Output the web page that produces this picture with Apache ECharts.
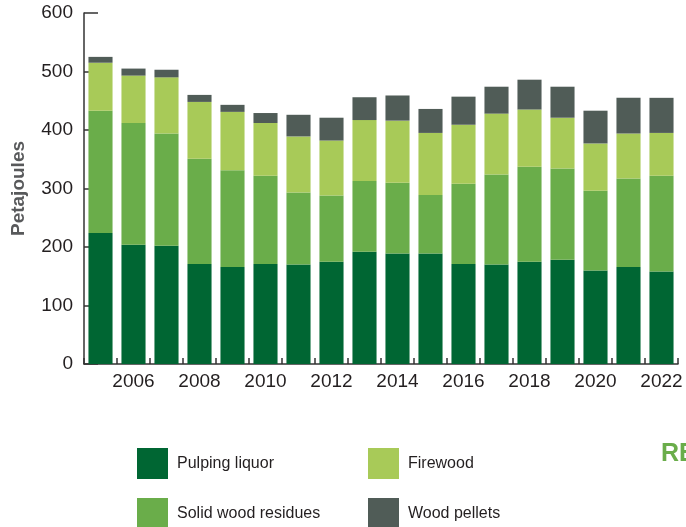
<!DOCTYPE html>
<html><head><meta charset="utf-8">
<script src="https://cdn.jsdelivr.net/npm/echarts@6/dist/echarts.min.js"></script>
<style>html,body{margin:0;padding:0;background:#fff}#c{width:686px;height:527px}</style>
</head><body><div id="c"></div>
<script>
const years = ['2005','2006','2007','2008','2009','2010','2011','2012','2013','2014','2015','2016','2017','2018','2019','2020','2021','2022'];
const pulpingLiquor = [224, 204, 202, 171, 166, 171, 170, 175, 192, 189, 189, 171, 170, 175, 178, 160, 166, 158];
const solidWoodResidues = [209, 208, 192, 180, 165, 151, 123, 113, 121, 121, 100, 137, 154, 162, 156, 136, 151, 164];
const firewood = [82, 81, 96, 97, 100, 90, 96, 94, 104, 106, 106, 101, 104, 98, 87, 81, 77, 73];
const woodPellets = [10, 12, 13, 12, 12, 17, 37, 39, 39, 43, 41, 48, 46, 51, 53, 56, 61, 60];
const yTicks = [0, 100, 200, 300, 400, 500, 600];

const FONT = '"Liberation Sans", Arial, sans-serif';
const colors = {
  'Pulping liquor': '#006633',
  'Solid wood residues': '#6aad4a',
  'Firewood': '#a8ca58',
  'Wood pellets': '#505c57'
};
function s(name, data) {
  return { name, type: 'bar', stack: 't', data, barCategoryGap: '27%', z: 5,
    itemStyle: { color: colors[name] } };
}
const legendBase = { top: 448, orient: 'vertical', itemWidth: 31, itemHeight: 31, itemGap: 19,
  padding: 0, height: 120, icon: 'rect', selectedMode: false,
  textStyle: { color: '#231f20', fontFamily: FONT, fontSize: 16, padding: [0, 0, 0, 4] } };
const chart = echarts.init(document.getElementById('c'), null, { renderer: 'canvas' });
chart.setOption({
  animation: false,
  grid: { left: 84, right: 8, top: 13, bottom: 163, containLabel: false, outerBoundsMode: 'none' },
  xAxis: {
    type: 'category', data: years, boundaryGap: true, z: 0,
    axisLine: { lineStyle: { color: '#333', width: 1.5 } },
    axisTick: { show: true, inside: true, length: 6, interval: 0, alignWithLabel: false, lineStyle: { color: '#333', width: 1.5 } },
    axisLabel: { interval: (i) => i % 2 === 1, color: '#231f20', fontFamily: FONT, fontSize: 19, margin: 8 }
  },
  yAxis: {
    type: 'value', min: yTicks[0], max: yTicks[yTicks.length - 1], interval: 100, z: 0,
    name: 'Petajoules', nameLocation: 'middle', nameGap: 56, nameRotate: 90,
    nameTextStyle: { color: '#58595b', fontFamily: FONT, fontSize: 19, fontWeight: 'bold' },
    axisLine: { show: true, lineStyle: { color: '#333', width: 1.5 } },
    axisTick: { show: true, inside: true, length: 14, lineStyle: { color: '#333', width: 1.5 } },
    splitLine: { show: false },
    axisLabel: { color: '#231f20', fontFamily: FONT, fontSize: 19, margin: 11 }
  },
  legend: [
    Object.assign({}, legendBase, { left: 137, data: ['Pulping liquor', 'Solid wood residues'] }),
    Object.assign({}, legendBase, { left: 368, data: ['Firewood', 'Wood pellets'] })
  ],
  title: { text: 'RE', left: 661, top: 442, padding: 0, textStyle: { color: '#6aad4a', fontFamily: FONT, fontSize: 25, fontWeight: 'bold' } },
  series: [
    s('Pulping liquor', pulpingLiquor),
    s('Solid wood residues', solidWoodResidues),
    s('Firewood', firewood),
    s('Wood pellets', woodPellets)
  ]
});
</script></body></html>
